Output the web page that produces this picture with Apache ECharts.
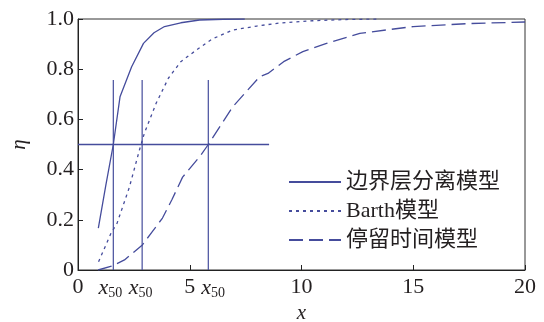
<!DOCTYPE html>
<html>
<head>
<meta charset="utf-8">
<script src="https://cdn.jsdelivr.net/npm/echarts@6/dist/echarts.min.js"></script>
<style>
  html, body { margin: 0; padding: 0; background: #fff; }
  #chart { width: 544px; height: 322px; }
</style>
</head>
<body>
<div id="chart"></div>
<script>
// 曲线数据 (x, η)
const boundaryX = [0.91, 1.25, 1.58, 1.88, 2.4, 2.93, 3.4, 3.87, 4.6, 5.44, 6.5, 7.46];
const boundaryY = [0.167, 0.34, 0.5, 0.69, 0.81, 0.903, 0.945, 0.97, 0.985, 0.996, 0.999, 1.0];

const barthX = [0.92, 1.48, 1.75, 2.3, 2.75, 2.97, 3.5, 4.05, 4.6, 5.29, 6.0, 6.92, 8.0, 9.03, 10.5, 12.0, 13.36];
const barthY = [0.033, 0.147, 0.187, 0.33, 0.478, 0.545, 0.665, 0.765, 0.83, 0.876, 0.92, 0.956, 0.972, 0.984, 0.993, 0.998, 1.0];

const residenceX = [0.9, 1.5, 2.08, 2.52, 2.88, 3.3, 3.78, 4.2, 4.68, 5.5, 5.83, 6.92, 8.13, 8.5, 9.2, 10.06, 11.12, 12.61, 15.0, 17.55, 20.0];
const residenceY = [0.0, 0.015, 0.04, 0.073, 0.1, 0.15, 0.207, 0.28, 0.37, 0.458, 0.5, 0.65, 0.77, 0.783, 0.83, 0.87, 0.903, 0.943, 0.97, 0.982, 0.988];

// x50 标记线
const x50Values = [1.58, 2.87, 5.83];
const x50Top = 0.757;
const halfLevel = 0.5;
const halfLineEnd = 8.55;
const x50LabelPos = [1.45, 2.8, 6.05];

const seriesNames = ['边界层分离模型', 'Barth模型', '停留时间模型'];
const xTicks = [0, 5, 10, 15, 20];

const lineColor = '#454c9c';
const textColor = '#231f20';
const fontFam = '"Liberation Serif", "Noto Sans CJK SC", serif';

function pairs(xs, ys) {
    return xs.map((x, i) => [x, ys[i]]);
}

const chart = echarts.init(document.getElementById('chart'));

const guideSeries = x50Values.map(x => ({
    type: 'line',
    name: 'guide',
    data: [[x, 0], [x, x50Top]],
    symbol: 'none',
    silent: true,
    lineStyle: { color: lineColor, width: 1.2 }
}));
guideSeries.push({
    type: 'line',
    name: 'guide',
    data: [[0, halfLevel], [halfLineEnd, halfLevel]],
    symbol: 'none',
    silent: true,
    lineStyle: { color: lineColor, width: 1.4 }
});

const option = {
    animation: false,
    backgroundColor: '#fff',
    textStyle: { fontFamily: fontFam, color: textColor },
    grid: {
        left: 78, right: 19, top: 19, bottom: 52,
        containLabel: false,
        outerBoundsMode: 'none',
        show: true, borderColor: '#333', borderWidth: 1
    },
    legend: {
        data: seriesNames,
        orient: 'vertical',
        left: 283,
        top: 166,
        itemWidth: 52,
        itemHeight: 14,
        itemGap: 7,
        itemStyle: { color: 'transparent', borderWidth: 0 },
        textStyle: { fontFamily: fontFam, fontSize: 22, color: textColor, lineHeight: 21 }
    },
    xAxis: [
        {
            type: 'value', min: 0, max: 20, interval: 5,
            name: 'x', nameLocation: 'middle', nameGap: 33,
            nameTextStyle: { fontFamily: fontFam, fontSize: 21, fontStyle: 'italic', color: textColor },
            axisLine: { lineStyle: { color: '#222', width: 1 } },
            axisTick: { inside: true, length: 5, lineStyle: { color: '#222' } },
            axisLabel: {
                margin: 6, fontSize: 22, color: textColor, fontFamily: fontFam,
                formatter: v => xTicks.indexOf(v) >= 0 ? String(v) : ''
            },
            splitLine: { show: false }
        },
        {
            type: 'value', min: 0, max: 20, position: 'bottom', gridIndex: 0,
            axisLine: { show: false },
            axisTick: { show: false },
            splitLine: { show: false },
            axisLabel: {
                customValues: x50LabelPos,
                margin: 6,
                formatter: () => '{i|x}{s|50}',
                rich: {
                    i: { fontFamily: fontFam, fontSize: 22, fontStyle: 'italic', color: textColor, lineHeight: 24 },
                    s: { fontFamily: fontFam, fontSize: 14, color: textColor, lineHeight: 24, verticalAlign: 'bottom', padding: [10, 0, 0, 0] }
                }
            }
        }
    ],
    yAxis: {
        type: 'value', min: 0, max: 1, interval: 0.2,
        name: 'η', nameLocation: 'middle', nameGap: 48, nameRotate: 90,
        nameTextStyle: { fontFamily: fontFam, fontSize: 21, fontStyle: 'italic', color: textColor },
        axisLine: { show: true, lineStyle: { color: '#222', width: 1 } },
        axisTick: { show: true, inside: true, length: 5, lineStyle: { color: '#222' } },
        axisLabel: {
            margin: 4, fontSize: 22, color: textColor, fontFamily: fontFam,
            formatter: v => v === 0 ? '0' : v.toFixed(1)
        },
        splitLine: { show: false }
    },
    series: [
        {
            name: seriesNames[0], type: 'line', symbol: 'none',
            data: pairs(boundaryX, boundaryY),
            lineStyle: { color: lineColor, width: 1.3, type: 'solid' },
            itemStyle: { color: lineColor }
        },
        {
            name: seriesNames[1], type: 'line', symbol: 'none',
            data: pairs(barthX, barthY),
            lineStyle: { color: lineColor, width: 1.3, type: [3, 4] },
            itemStyle: { color: lineColor }
        },
        {
            name: seriesNames[2], type: 'line', symbol: 'none',
            data: pairs(residenceX, residenceY),
            lineStyle: { color: lineColor, width: 1.3, type: [14, 6] },
            itemStyle: { color: lineColor }
        }
    ].concat(guideSeries)
};

chart.setOption(option);
</script>
</body>
</html>
